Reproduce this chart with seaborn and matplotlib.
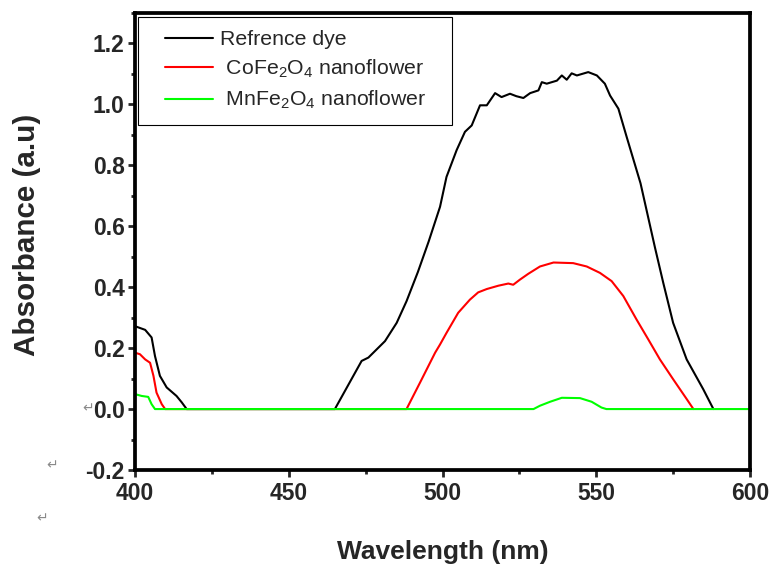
import matplotlib
matplotlib.use("Agg")
import matplotlib.pyplot as plt
from matplotlib.ticker import MultipleLocator, FormatStrFormatter
from matplotlib.patches import Rectangle
import seaborn as sns
import pandas as pd

# ---- data ----
dye_wl = [400, 403.3, 405.4, 406.5, 408.1, 410.3, 413.5, 415.2, 416.8, 465.0,
          467.7, 471.0, 473.7, 475.9, 478.6, 481.3, 485.1, 488.3, 492.0, 495.5,
          499.2, 501.3, 504.6, 507.3, 509.5, 512.2, 514.4, 517.1, 519.2, 521.95,
          524.0, 526.3, 528.5, 531.2, 532.3, 533.9, 537.2, 538.8, 540.4, 542.0,
          543.7, 547.4, 550.2, 552.8, 554.5, 557.2, 559.9, 564.4, 569.1, 571.8,
          575.0, 579.4, 584.8, 588.1]
dye_abs = [0.272, 0.26, 0.235, 0.174, 0.109, 0.071, 0.043, 0.022, 0.0, 0.0,
           0.049, 0.109, 0.158, 0.169, 0.196, 0.223, 0.283, 0.354, 0.45, 0.55,
           0.664, 0.762, 0.85, 0.91, 0.931, 0.997, 0.997, 1.037, 1.024, 1.035,
           1.027, 1.021, 1.037, 1.046, 1.073, 1.068, 1.078, 1.095, 1.081, 1.102,
           1.095, 1.106, 1.095, 1.068, 1.029, 0.986, 0.893, 0.741, 0.53, 0.414,
           0.283, 0.163, 0.065, 0.0]

co_wl = [400, 401.6, 403.3, 404.9, 406.0, 407.0, 408.7, 409.8, 488.3, 492.7,
         497.6, 499.2, 501.3, 505.1, 508.9, 511.6, 514.4, 518.2, 521.4, 523.0,
         525.2, 527.9, 531.7, 536.1, 542.5, 546.9, 551.2, 555.0, 558.8, 563.1,
         566.9, 570.7, 575.0, 579.4, 581.6]
co_abs = [0.185, 0.18, 0.163, 0.152, 0.109, 0.054, 0.016, 0.0, 0.0, 0.087,
          0.185, 0.212, 0.25, 0.316, 0.359, 0.383, 0.394, 0.405, 0.412, 0.408,
          0.425, 0.444, 0.468, 0.481, 0.479, 0.468, 0.447, 0.42, 0.371, 0.294,
          0.229, 0.163, 0.098, 0.033, 0.0]

mn_wl = [400, 402.2, 404.3, 405.4, 406.5, 529.6, 531.7, 535.0, 538.8, 544.7,
         548.5, 551.7, 553.3, 600]
mn_abs = [0.049, 0.043, 0.04, 0.016, 0.0, 0.0, 0.011, 0.024, 0.037, 0.036,
          0.024, 0.005, 0.0, 0.0]

labels = ["Refrence dye", r" CoFe$_2$O$_4$ nanoflower", r" MnFe$_2$O$_4$ nanoflower"]
colors = ["#000000", "#ff0000", "#00ff00"]
x_ticks = [400, 450, 500, 550, 600]
y_ticks = [-0.2, 0.0, 0.2, 0.4, 0.6, 0.8, 1.0, 1.2]

# ---- style ----
sns.set_style("ticks")
plt.rcParams["font.family"] = ["Liberation Sans", "DejaVu Sans"]
plt.rcParams["mathtext.fontset"] = "custom"
plt.rcParams["mathtext.rm"] = "Liberation Sans"
plt.rcParams["mathtext.it"] = "Liberation Sans"
plt.rcParams["mathtext.default"] = "regular"
plt.rcParams["axes.unicode_minus"] = False

fig = plt.figure(figsize=(7.7, 5.64), dpi=100)
ax = fig.add_axes([135 / 770, 1 - 470 / 564, 615 / 770, 457 / 564])

series = [(dye_wl, dye_abs), (co_wl, co_abs), (mn_wl, mn_abs)]
for (wl, ab), lab, col in zip(series, labels, colors):
    df = pd.DataFrame({"wl": wl, "abs": ab})
    sns.lineplot(data=df, x="wl", y="abs", ax=ax, color=col, label=lab,
                 sort=False, estimator=None, linewidth=1.5)

ax.set_xlim(400, 600)
ax.set_ylim(-0.2, 1.3)
ax.set_xticks(x_ticks)
ax.set_yticks(y_ticks)
ax.xaxis.set_minor_locator(MultipleLocator(25))
ax.yaxis.set_minor_locator(MultipleLocator(0.1))
ax.yaxis.set_major_formatter(FormatStrFormatter("%.1f"))
ax.tick_params(axis="both", which="major", direction="out", length=5, width=2,
               labelsize=16.5, pad=2.5)
ax.tick_params(axis="x", which="major", pad=4)
ax.tick_params(axis="both", which="minor", direction="out", length=3, width=2)
ax.tick_params(top=False, right=False, which="both")
for lbl in ax.get_xticklabels() + ax.get_yticklabels():
    lbl.set_fontweight("bold")
for sp in ax.spines.values():
    sp.set_linewidth(2.7)
    sp.set_color("black")

ax.set_xlabel("Wavelength (nm)", fontsize=19, fontweight="bold")
ax.set_ylabel("Absorbance (a.u)", fontsize=21.3, fontweight="bold")
ax.xaxis.set_label_coords(0.5008, (470 - 540) / 457)
ax.yaxis.set_label_coords((41 - 135) / 615, (470 - 234.5) / 457)

# legend entries (frameless) plus a plain rectangular box around them
leg = ax.legend(loc="upper left", bbox_to_anchor=((165 - 135) / 615, (470 - 30) / 457),
                borderaxespad=0, borderpad=0, fontsize=15.3, frameon=False,
                handlelength=2.25, handletextpad=0.33, labelspacing=0.42)
ax.add_patch(Rectangle(((138 - 135) / 615, (470 - 125) / 457), 314 / 615, 108 / 457,
                       transform=ax.transAxes, fill=True, facecolor="white",
                       edgecolor="black", linewidth=0.8, zorder=4))
leg.set_zorder(5)

# stray paragraph marks from the source document
for (px, py) in [(88, 408), (52, 465), (42, 518)]:
    fig.text(px / 770, 1 - py / 564, "\u21b5", fontsize=10, color="#8a8a8a",
             family=["DejaVu Sans"], ha="center", va="center")

fig.savefig("out.png", dpi=100)
